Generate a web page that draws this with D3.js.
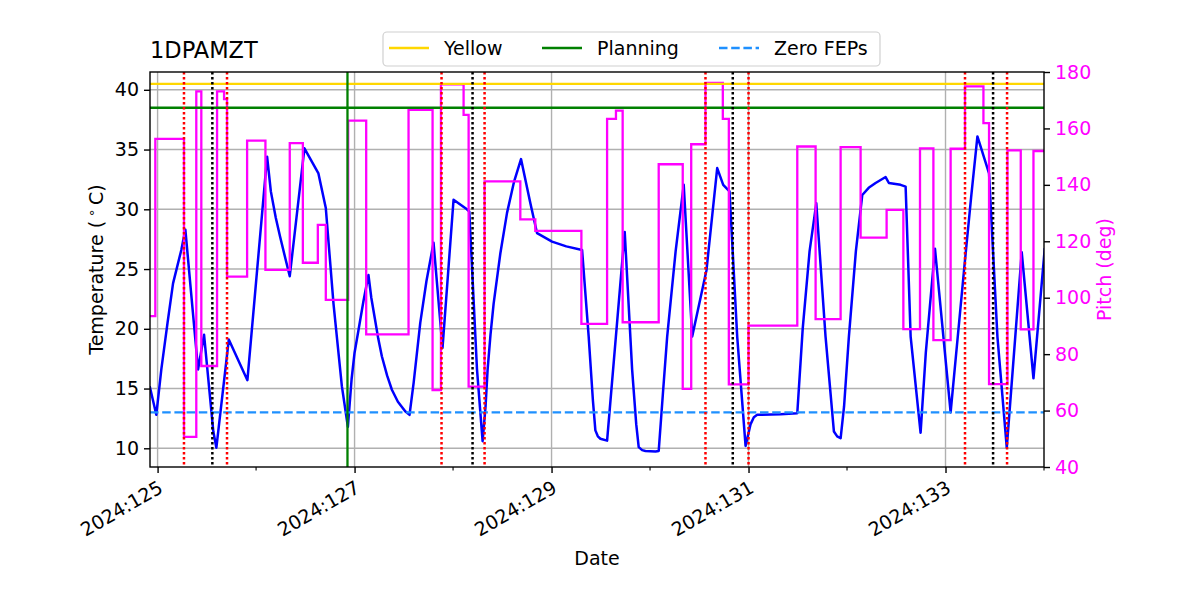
<!DOCTYPE html>
<html>
<head>
<meta charset="utf-8">
<script src="https://cdn.jsdelivr.net/npm/d3@7"></script>
<style>
  body { margin: 0; background: #fff; }
  svg { font-family: "DejaVu Sans", sans-serif; }
</style>
</head>
<body>
<svg id="chart"></svg>
<script>
// Temperature trace (day of year, degC)
const tempDays = [124.920, 124.987, 125.038, 125.101, 125.157, 125.241, 125.282, 125.411, 125.472, 125.566, 125.597,
  125.723, 125.912, 126.112, 126.150, 126.200, 126.244, 126.300, 126.342, 126.491, 126.633, 126.708, 126.786, 126.871,
  126.932, 126.970, 127.000, 127.040, 127.090, 127.141, 127.170, 127.205, 127.240, 127.277, 127.330, 127.379, 127.440,
  127.514, 127.558, 127.600, 127.667, 127.730, 127.802, 127.893, 128.005, 128.141, 128.165, 128.243, 128.300, 128.330,
  128.351, 128.380, 128.412, 128.480, 128.548, 128.619, 128.690, 128.785, 128.853, 129.005, 129.150, 129.310, 129.377,
  129.420, 129.445, 129.470, 129.496, 129.564, 129.743, 129.818, 129.860, 129.885, 129.920, 129.953, 130.055, 130.088,
  130.130, 130.174, 130.260, 130.342, 130.428, 130.573, 130.682, 130.743, 130.807, 130.885, 130.970, 131.020, 131.054,
  131.088, 131.325, 131.495, 131.550, 131.620, 131.688, 131.782, 131.867, 131.900, 131.935, 131.970, 132.019, 132.090,
  132.155, 132.220, 132.290, 132.392, 132.425, 132.544, 132.595, 132.646, 132.747, 132.800, 132.893, 133.052, 133.188,
  133.260, 133.324, 133.442, 133.527, 133.622, 133.774, 133.893, 134.008];
const tempVals = [15.2, 12.8, 16.6, 20.5, 23.8, 26.6, 28.3, 16.6, 19.5, 11.4, 10.05,
  19.1, 15.7, 34.4, 31.5, 29.3, 27.7, 25.8, 24.4, 35.1, 33.0, 30.1, 22.1, 15.2,
  11.8, 15.8, 18.0, 19.9, 22.3, 24.5, 22.6, 20.9, 19.2, 17.7, 16.1, 14.9, 13.9,
  13.1, 12.8, 15.5, 20.5, 24.0, 27.2, 18.4, 30.8, 30.0, 29.8, 16.6, 10.6, 13.5,
  16.6, 19.5, 22.1, 26.3, 29.7, 32.3, 34.2, 30.5, 28.0, 27.3, 26.9, 26.6, 19.35,
  14.0, 11.5, 11.0, 10.8, 10.64, 28.1, 16.6, 12.0, 10.1, 9.85, 9.78, 9.73, 9.78,
  14.5, 19.35, 26.5, 32.05, 19.35, 24.9, 33.45, 32.05, 31.5, 19.35, 10.2, 12.0, 12.6,
  12.8, 12.85, 12.93, 20.0, 26.5, 30.5, 19.35, 11.4, 11.0, 10.84, 13.5, 19.35, 26.5,
  31.2, 31.8, 32.2, 32.7, 32.2, 32.05, 31.9, 19.35, 11.3, 18.0, 26.7, 13.0, 24.9,
  31.0, 36.1, 33.0, 19.35, 10.05, 26.4, 15.86, 26.75];

// Pitch steps (start day, deg)
const pitchDays = [124.920, 124.977, 125.268, 125.393, 125.444, 125.604, 125.675, 125.705, 125.909, 126.095, 126.342,
  126.475, 126.627, 126.708, 126.935, 127.118, 127.548, 127.792, 127.877, 128.107, 128.158, 128.320, 128.683, 128.835,
  129.303, 129.564, 129.654, 129.722, 130.088, 130.332, 130.418, 130.563, 130.739, 130.800, 131.000, 131.495, 131.681,
  131.935, 132.138, 132.402, 132.572, 132.741, 132.877, 133.052, 133.198, 133.385, 133.442, 133.629, 133.764, 133.893,
  134.010];
const pitchVals = [93.5, 156.3, 50.7, 173.1, 75.8, 173.1, 170.4, 107.5, 155.7, 109.9, 154.8,
  112.4, 125.8, 99.2, 162.8, 87.0, 166.6, 67.3, 175.6, 164.8, 68.5, 141.2, 127.8, 123.7,
  90.7, 163.4, 166.3, 91.3, 147.3, 67.7, 154.4, 176.1, 163.4, 69.3, 90.1, 153.6, 92.4,
  153.4, 121.3, 131.1, 88.9, 152.9, 85.0, 152.8, 174.9, 161.9, 69.4, 152.2, 88.8, 152.0,
  152.0];

// Event markers
const redDays = [125.268, 125.705, 127.883, 128.320, 130.563, 131.000, 133.198, 133.625];
const blackDays = [125.556, 128.198, 130.840, 133.483];
const planningDay = 126.928;

// Limits
const yellowLimit = 40.5;
const planningLimit = 38.5;
const zeroFepsLimit = 13.0;

// Axis ticks
const majorDays = [125, 127, 129, 131, 133];
const minorDays = [126, 128, 130, 132, 134];
const tempTicks = [10, 15, 20, 25, 30, 35, 40];
const pitchTicks = [40, 60, 80, 100, 120, 140, 160, 180];

const WIDTH = 1200;
const HEIGHT = 600;
const LEFT = 150, RIGHT = 1044, TOP = 72, BOTTOM = 467;
const FONT = 19;

const svg = d3.select("#chart")
  .attr("width", WIDTH)
  .attr("height", HEIGHT);

// Scales
const x = d3.scaleLinear().domain([124.923, 134.0]).range([LEFT, RIGHT]);
const yT = d3.scaleLinear().domain([8.435, 41.49]).range([BOTTOM, TOP]);
const yP = d3.scaleLinear().domain([40, 180]).range([BOTTOM, TOP]);

svg.append("defs").append("clipPath").attr("id", "plot")
  .append("rect").attr("x", LEFT).attr("y", TOP).attr("width", RIGHT - LEFT).attr("height", BOTTOM - TOP);

// Grid
const grid = svg.append("g").attr("stroke", "#b0b0b0").attr("stroke-width", 1.4);
grid.selectAll(".gx").data(majorDays).enter().append("line")
  .attr("x1", d => x(d)).attr("x2", d => x(d)).attr("y1", TOP).attr("y2", BOTTOM);
grid.selectAll(".gy").data(tempTicks).enter().append("line")
  .attr("x1", LEFT).attr("x2", RIGHT).attr("y1", d => yT(d)).attr("y2", d => yT(d));

const plot = svg.append("g").attr("clip-path", "url(#plot)");

// Temperature
const tempData = tempDays.map((d, i) => [d, tempVals[i]]);
plot.append("path")
  .datum(tempData)
  .attr("fill", "none")
  .attr("stroke", "#0000ff")
  .attr("stroke-width", 2.5)
  .attr("stroke-linejoin", "round")
  .attr("d", d3.line().x(d => x(d[0])).y(d => yT(d[1])));

// Pitch
const pitchData = pitchDays.map((d, i) => [d, pitchVals[i]]);
plot.append("path")
  .datum(pitchData)
  .attr("fill", "none")
  .attr("stroke", "#ff00ff")
  .attr("stroke-width", 2.3)
  .attr("d", d3.line().curve(d3.curveStepAfter).x(d => x(d[0])).y(d => yP(d[1])));

// Limit lines
function hline(val, color, dash) {
  plot.append("line")
    .attr("x1", LEFT).attr("x2", RIGHT)
    .attr("y1", yT(val)).attr("y2", yT(val))
    .attr("stroke", color).attr("stroke-width", 2.3)
    .attr("stroke-dasharray", dash);
}
hline(yellowLimit, "#ffd700", null);
hline(planningLimit, "#008000", null);
hline(zeroFepsLimit, "#1e90ff", "8.5,3.7");

// Vertical markers
plot.selectAll(".red").data(redDays).enter().append("line")
  .attr("x1", d => x(d)).attr("x2", d => x(d)).attr("y1", TOP).attr("y2", BOTTOM)
  .attr("stroke", "#ff0000").attr("stroke-width", 2.5).attr("stroke-dasharray", "2.5,2.5");
plot.selectAll(".black").data(blackDays).enter().append("line")
  .attr("x1", d => x(d)).attr("x2", d => x(d)).attr("y1", TOP).attr("y2", BOTTOM)
  .attr("stroke", "#000").attr("stroke-width", 2.5).attr("stroke-dasharray", "2.5,2.5");
plot.append("line")
  .attr("x1", x(planningDay)).attr("x2", x(planningDay)).attr("y1", TOP).attr("y2", BOTTOM)
  .attr("stroke", "#008000").attr("stroke-width", 2.3);

// Frame
svg.append("rect")
  .attr("x", LEFT).attr("y", TOP).attr("width", RIGHT - LEFT).attr("height", BOTTOM - TOP)
  .attr("fill", "none").attr("stroke", "#000").attr("stroke-width", 1.4);

// Left axis
const axL = svg.append("g")
  .attr("transform", `translate(${LEFT},0)`)
  .call(d3.axisLeft(yT).tickValues(tempTicks).tickSize(6).tickPadding(5));
axL.select(".domain").remove();
axL.selectAll("line").attr("stroke", "#000").attr("stroke-width", 1.4);
axL.selectAll("text").attr("font-size", FONT).attr("font-family", "DejaVu Sans").attr("fill", "#000");

// Right axis
const axR = svg.append("g")
  .attr("transform", `translate(${RIGHT},0)`)
  .call(d3.axisRight(yP).tickValues(pitchTicks).tickSize(6).tickPadding(5));
axR.select(".domain").remove();
axR.selectAll("line").attr("stroke", "#000").attr("stroke-width", 1.4);
axR.selectAll("text").attr("font-size", FONT).attr("font-family", "DejaVu Sans").attr("fill", "#ff00ff");

// Bottom axis
const axB = svg.append("g")
  .attr("transform", `translate(0,${BOTTOM})`)
  .call(d3.axisBottom(x).tickValues(majorDays).tickSize(6).tickFormat(d => `2024:${d}`));
axB.select(".domain").remove();
axB.selectAll("line").attr("stroke", "#000").attr("stroke-width", 1.4);
axB.selectAll("text")
  .attr("font-size", FONT).attr("font-family", "DejaVu Sans").attr("fill", "#000")
  .attr("text-anchor", "end")
  .attr("dy", null).attr("y", null)
  .attr("dominant-baseline", "hanging")
  .attr("transform", "translate(-1,12) rotate(-30)");
svg.append("g").selectAll("line").data(minorDays).enter().append("line")
  .attr("x1", d => x(d)).attr("x2", d => x(d)).attr("y1", BOTTOM).attr("y2", BOTTOM + 3.5)
  .attr("stroke", "#000").attr("stroke-width", 1.1);

// Axis labels
svg.append("text")
  .attr("x", (LEFT + RIGHT) / 2).attr("y", 565)
  .attr("text-anchor", "middle").attr("font-size", FONT)
  .text("Date");

const tl = svg.append("text")
  .attr("transform", `translate(103,${(TOP + BOTTOM) / 2}) rotate(-90)`)
  .attr("text-anchor", "middle").attr("font-size", FONT);
tl.append("tspan").text("Temperature (\u2009");
tl.append("tspan").attr("font-size", FONT * 0.7).attr("dy", -7).text("\u2218");
tl.append("tspan").attr("dy", 7).text("\u2009C)");

svg.append("text")
  .attr("transform", `translate(1111,${(TOP + BOTTOM) / 2}) rotate(-90)`)
  .attr("text-anchor", "middle").attr("font-size", FONT).attr("fill", "#ff00ff")
  .text("Pitch (deg)");

// Title
svg.append("text")
  .attr("x", LEFT).attr("y", 58)
  .attr("font-size", 22.5)
  .text("1DPAMZT");

// Legend
const legendItems = [
  { label: "Yellow", color: "#ffd700", dash: null, x: 389 },
  { label: "Planning", color: "#008000", dash: null, x: 542 },
  { label: "Zero FEPs", color: "#1e90ff", dash: "8.5,3.7", x: 719 }
];
const legend = svg.append("g");
legend.append("rect")
  .attr("x", 383).attr("y", 32).attr("width", 497).attr("height", 34).attr("rx", 4)
  .attr("fill", "#fff").attr("fill-opacity", 0.8)
  .attr("stroke", "#d0d0d0").attr("stroke-width", 1.2);
legendItems.forEach(d => {
  legend.append("line")
    .attr("x1", d.x).attr("x2", d.x + 40).attr("y1", 48).attr("y2", 48)
    .attr("stroke", d.color).attr("stroke-width", 2.3).attr("stroke-dasharray", d.dash);
  legend.append("text")
    .attr("x", d.x + 55).attr("y", 54.5)
    .attr("font-size", FONT)
    .text(d.label);
});
</script>
</body>
</html>
